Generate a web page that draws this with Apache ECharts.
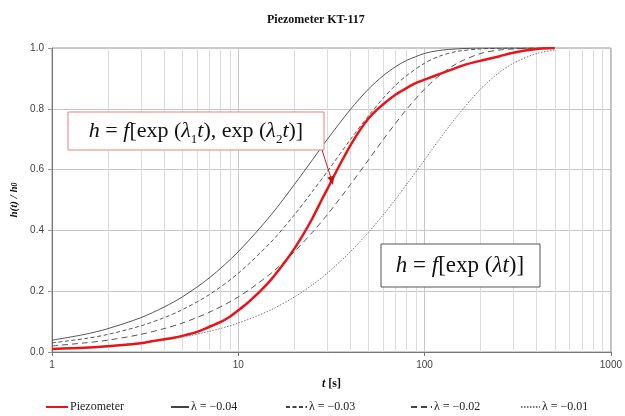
<!DOCTYPE html>
<html>
<head>
<meta charset="utf-8">
<script src="https://cdn.jsdelivr.net/npm/echarts@6/dist/echarts.min.js"></script>
<style>html,body{margin:0;padding:0;background:#fff}#c{width:625px;height:416px}</style>
</head>
<body>
<div id="c"></div>
<script>
// time values (s) for the theoretical curves
const tTheory = [1,1.5,2,3,4,5,7,10,15,20,25,30,40,50,60,70,80,100,120,150,200,250,300,400,500];
const hL004 = [0.039,0.058,0.077,0.113,0.148,0.181,0.244,0.330,0.451,0.551,0.632,0.699,0.798,0.865,0.909,0.939,0.959,0.982,0.992,0.997,1.000,1.000,1.000,1.000,1.000];
const hL003 = [0.030,0.044,0.058,0.086,0.113,0.139,0.189,0.259,0.362,0.451,0.528,0.593,0.699,0.777,0.835,0.878,0.909,0.950,0.973,0.989,0.997,0.999,1.000,1.000,1.000];
const hL002 = [0.020,0.030,0.039,0.058,0.077,0.095,0.131,0.181,0.259,0.330,0.394,0.451,0.551,0.632,0.699,0.753,0.798,0.865,0.909,0.950,0.982,0.993,0.997,1.000,1.000];
const hL001 = [0.010,0.015,0.020,0.030,0.039,0.049,0.068,0.095,0.139,0.181,0.221,0.259,0.330,0.394,0.451,0.503,0.551,0.632,0.699,0.777,0.865,0.918,0.950,0.982,0.993];
// measured piezometer response
const tPiezo = [1,1.5,2,2.5,3,3.5,4,4.5,5,6,7,8,9,10,11,12,13,15,18,20,22,25,28,30,35,40,45,50,55,60,70,80,90,100,125,167,213,250,290,390,500];
const hPiezo = [0.010,0.014,0.019,0.024,0.029,0.036,0.042,0.047,0.053,0.066,0.083,0.098,0.116,0.137,0.157,0.178,0.198,0.238,0.300,0.340,0.380,0.440,0.500,0.535,0.615,0.680,0.730,0.768,0.795,0.815,0.847,0.868,0.885,0.896,0.918,0.946,0.962,0.972,0.983,0.996,1.000];
// minor log grid positions
const minorGrid = [2,3,4,5,6,7,8,9,20,30,40,50,60,70,80,90,200,300,400,500,600,700,800,900];
const yTicks = [0,0.2,0.4,0.6,0.8,1.0];
const seriesNames = ['Piezometer','λ = −0.04','λ = −0.03','λ = −0.02','λ = −0.01'];

const zip = (xs, ys) => xs.map((x, i) => [x, ys[i]]);
const serif = 'Liberation Serif';

const chart = echarts.init(document.getElementById('c'), null, {renderer: 'canvas'});

function legendAt(name, left, w) {
  return {
    data: [name], left: left, top: 401, itemWidth: w, itemHeight: 10, itemGap: 0, padding: 0,
    selectedMode: false,
    itemStyle: {opacity: 0, borderWidth: 0},
    textStyle: {fontFamily: serif, fontSize: 12, color: '#222', padding: [0, 0, 0, -3]}
  };
}

function lineSeries(name, xs, ys, color, width, type, z) {
  return {
    name: name, type: 'line', data: zip(xs, ys), showSymbol: false, symbol: 'none', smooth: 0.3, z: z,
    color: color, itemStyle: {color: color},
    lineStyle: {color: color, width: width, type: type}
  };
}

chart.setOption({
  animation: false,
  backgroundColor: '#fff',
  title: {
    text: 'Piezometer KT-117', left: 262, top: 9,
    textStyle: {fontFamily: serif, fontWeight: 'bold', fontSize: 12, color: '#111'}
  },
  legend: [
    legendAt(seriesNames[0], 45, 22),
    legendAt(seriesNames[1], 170, 18),
    legendAt(seriesNames[2], 285, 21),
    legendAt(seriesNames[3], 410, 21),
    legendAt(seriesNames[4], 520, 19)
  ],
  grid: {left: 52, right: 9, top: 48, bottom: 64, show: true, borderColor: '#999', borderWidth: 1, backgroundColor: 'transparent'},
  xAxis: {
    type: 'log', logBase: 10, min: 1, max: 1000,
    name: '{i|t} [s]', nameLocation: 'middle', nameGap: 26,
    nameTextStyle: {fontFamily: serif, fontWeight: 'bold', fontSize: 12, color: '#111',
      rich: {i: {fontFamily: serif, fontWeight: 'bold', fontStyle: 'italic', fontSize: 12, color: '#111'}}},
    axisLine: {lineStyle: {color: '#777'}},
    axisTick: {show: true, length: 4, lineStyle: {color: '#777'}},
    axisLabel: {fontFamily: 'Liberation Sans', fontSize: 10, color: '#444', margin: 8,
      formatter: v => String(Math.round(v))},
    splitLine: {show: true, lineStyle: {color: '#c8c8c8', width: 1}}
  },
  yAxis: {
    type: 'value', min: yTicks[0], max: yTicks[yTicks.length - 1], interval: 0.2,
    name: '{a|h(t) / h}{s|0}', nameLocation: 'middle', nameGap: 27, nameRotate: 90,
    nameTextStyle: {
      rich: {
        a: {fontFamily: serif, fontWeight: 'bold', fontStyle: 'italic', fontSize: 11, color: '#111'},
        s: {fontFamily: serif, fontWeight: 'bold', fontStyle: 'italic', fontSize: 8, color: '#111', verticalAlign: 'bottom'}
      }
    },
    axisLine: {show: true, lineStyle: {color: '#777'}},
    axisTick: {show: true, length: 4, lineStyle: {color: '#999'}},
    axisLabel: {fontFamily: 'Liberation Sans', fontSize: 10, color: '#444', margin: 8,
      formatter: v => v.toFixed(1)},
    splitLine: {show: true, lineStyle: {color: '#c8c8c8', width: 1}}
  },
  series: [
    {
      name: 'grid-minor', type: 'line', data: [], silent: true, z: 0,
      markLine: {
        silent: true, symbol: 'none', z: 0, animation: false,
        label: {show: false},
        lineStyle: {color: '#dcdcdc', type: 'solid', width: 1},
        data: minorGrid.map(v => ({xAxis: v}))
      }
    },
    lineSeries(seriesNames[4], tTheory, hL001, '#777', 1, [1.5, 1.5], 3),
    lineSeries(seriesNames[3], tTheory, hL002, '#444', 0.9, [6, 4], 3),
    lineSeries(seriesNames[2], tTheory, hL003, '#444', 0.9, [4, 2.5], 3),
    lineSeries(seriesNames[1], tTheory, hL004, '#444', 0.9, 'solid', 3),
    lineSeries(seriesNames[0], tPiezo, hPiezo, '#e8141a', 2.5, 'solid', 4)
  ],
  graphic: [
    {type: 'rect', shape: {x: 68, y: 112, width: 256, height: 38}, style: {fill: '#fff', stroke: '#e88080', lineWidth: 1}, z: 10},
    {type: 'text', z: 11, style: {
      x: 196, y: 131, align: 'center', verticalAlign: 'middle', textAlign: 'center', textVerticalAlign: 'middle',
      text: '{i|h} = {i|f}[exp ({i|λ}{s|1}{i|t}), exp ({i|λ}{s|2}{i|t})]',
      fontFamily: serif, fontSize: 22, fill: '#111',
      rich: {
        i: {fontFamily: serif, fontStyle: 'italic', fontSize: 22, fill: '#111'},
        s: {fontFamily: serif, fontSize: 13, fill: '#111', verticalAlign: 'bottom', padding: [0, 0, -4, 0]}
      }
    }},
    {type: 'line', z: 11, shape: {x1: 322, y1: 150, x2: 331, y2: 178}, style: {stroke: '#d42020', lineWidth: 1}},
    {type: 'polygon', z: 11, shape: {points: [[333, 185], [334.2, 175.4], [327.5, 177.6]]}, style: {fill: '#c81010'}},
    {type: 'rect', shape: {x: 381, y: 244, width: 159, height: 43}, style: {fill: '#fff', stroke: '#555', lineWidth: 1}, z: 10},
    {type: 'text', z: 11, style: {
      x: 460, y: 266, align: 'center', verticalAlign: 'middle', textAlign: 'center', textVerticalAlign: 'middle',
      text: '{i|h} = {i|f}[exp ({i|λt})]',
      fontFamily: serif, fontSize: 23, fill: '#111',
      rich: {
        i: {fontFamily: serif, fontStyle: 'italic', fontSize: 23, fill: '#111'}
      }
    }}
  ]
});
</script>
</body>
</html>
